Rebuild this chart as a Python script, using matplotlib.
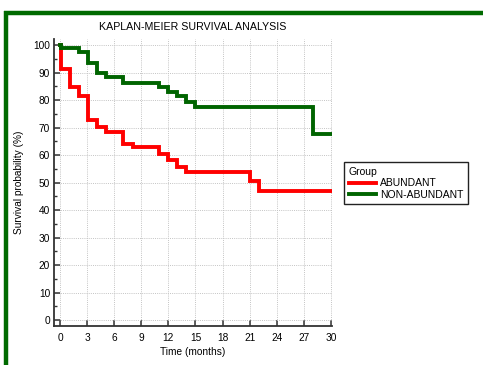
import matplotlib
matplotlib.use("Agg")
import matplotlib.pyplot as plt
from matplotlib.lines import Line2D

plt.rcParams['font.family'] = ['Liberation Sans', 'DejaVu Sans']

# Data (Kaplan-Meier step curves)
abundant_t = [0, 0.1, 1.1, 2.1, 3.05, 4.05, 5.05, 7.0, 8.05, 11.0, 12.0, 13.0, 14.0, 21.0, 22.0, 30]
abundant_s = [100, 91.2, 84.8, 81.5, 72.7, 70.3, 68.5, 63.9, 62.8, 60.4, 58.2, 55.8, 54.0, 50.7, 47.0, 47.0]
nonab_t = [0, 0.1, 2.1, 3.05, 4.05, 5.05, 7.0, 11.0, 12.0, 13.0, 14.0, 15.0, 28.0, 30]
nonab_s = [100, 98.8, 97.6, 93.3, 89.7, 88.5, 86.3, 84.6, 83.0, 81.5, 79.4, 77.3, 67.6, 67.6]
xticks = list(range(0, 31, 3))
yticks = list(range(0, 101, 10))

W, H = 483, 365
fig = plt.figure(figsize=(W / 100, H / 100), dpi=100)
ax = fig.add_axes([54.3 / W, 1 - 326 / H, (331.5 - 54.3) / W, (326 - 39.3) / H])

ax.step(abundant_t, abundant_s, where='post', color='#ff0000', lw=2.8,
        solid_joinstyle='miter', label='ABUNDANT')
ax.step(nonab_t, nonab_s, where='post', color='#006400', lw=2.8,
        solid_joinstyle='miter', label='NON-ABUNDANT')

ax.set_xlim(-0.63, 30.06)
ax.set_ylim(-2.18, 102.1)
ax.set_xticks(xticks)
ax.set_yticks(yticks)
ax.set_yticks(list(range(5, 100, 10)), minor=True)
ax.grid(True, which='major', linestyle=(0, (1, 1.2)), color='#c4c4c4', lw=0.7)
ax.set_axisbelow(True)

for s in ['top', 'right']:
    ax.spines[s].set_visible(False)
for s in ['left', 'bottom']:
    ax.spines[s].set_linewidth(1.3)
    ax.spines[s].set_color('#333333')

ax.tick_params(axis='both', which='major', direction='in', length=4, width=1.1,
               color='#333333', labelsize=7.3, pad=3)
ax.tick_params(axis='y', which='minor', direction='in', length=2.5, width=1.0, color='#333333')
ax.tick_params(axis='x', which='major', pad=5)

ax.set_title('KAPLAN-MEIER SURVIVAL ANALYSIS', fontsize=7.7, pad=7)
ax.set_xlabel('Time (months)', fontsize=7.3, labelpad=3)
ax.set_ylabel('Survival probability (%)', fontsize=7.3, labelpad=7)

leg = ax.legend(title='Group', loc='upper left', bbox_to_anchor=(344 / W, 1 - 162 / H),
                bbox_transform=fig.transFigure, fontsize=7.5, title_fontsize=7.5,
                fancybox=False, framealpha=1, edgecolor='#222222', borderpad=0.45,
                handlelength=2.6, handletextpad=0.4, labelspacing=0.15, borderaxespad=0)
leg._legend_box.align = 'left'
leg.get_frame().set_linewidth(1.0)

# green frame
fig.add_artist(Line2D([4 / W, 1.0], [1 - 13 / H, 1 - 13 / H], transform=fig.transFigure,
                      color='#006a00', lw=3.2, solid_capstyle='butt'))
fig.add_artist(Line2D([6 / W, 6 / W], [1 - 11 / H, 0], transform=fig.transFigure,
                      color='#006a00', lw=3.2, solid_capstyle='butt'))

fig.savefig('out.png', dpi=100)
